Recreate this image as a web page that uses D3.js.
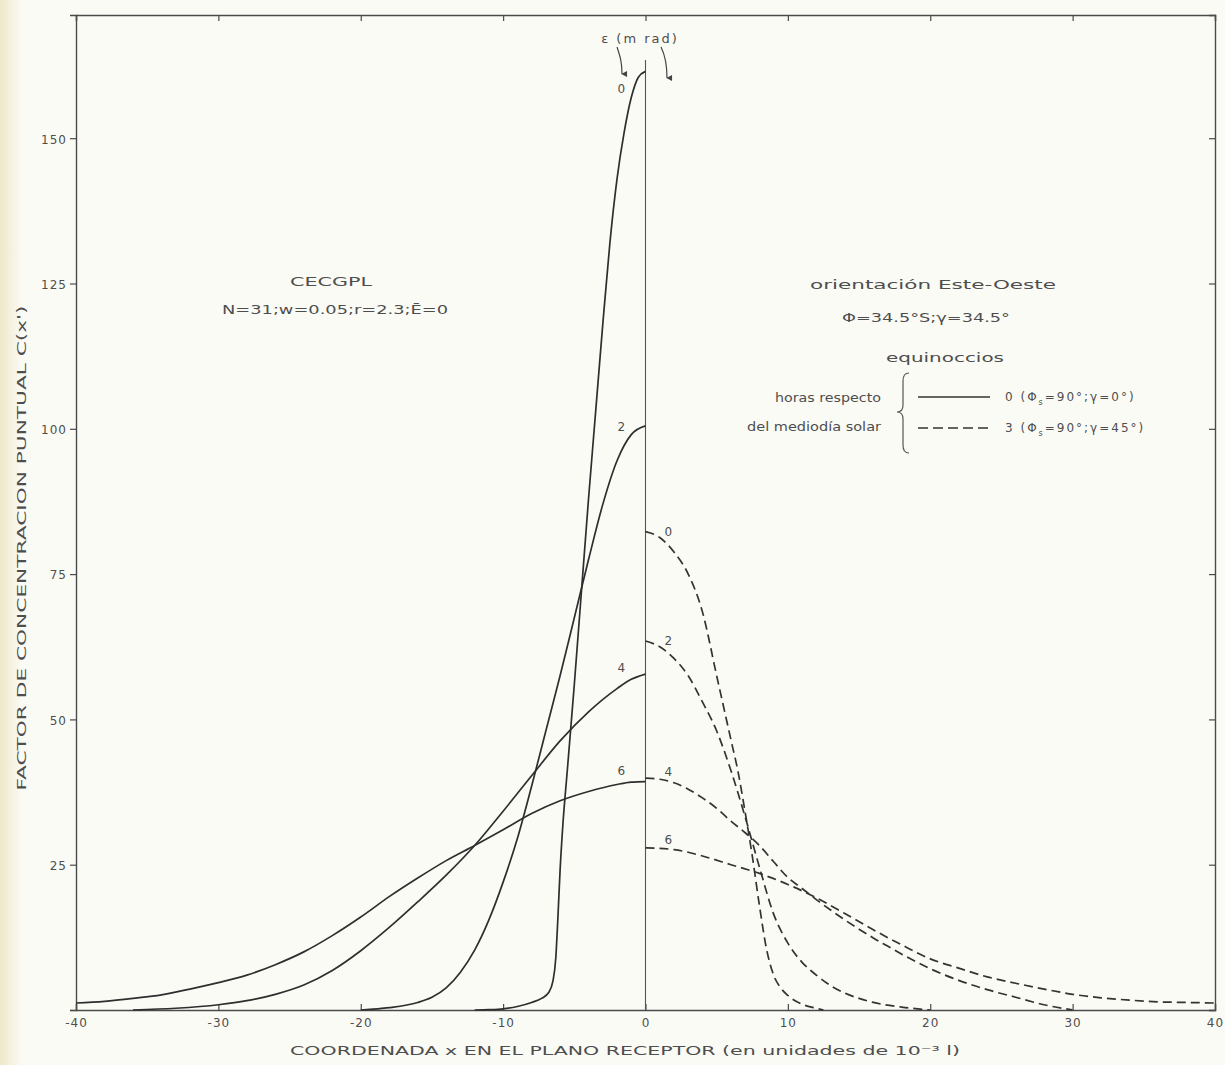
<!DOCTYPE html>
<html><head><meta charset="utf-8">
<script src="https://cdn.jsdelivr.net/npm/d3@7"></script>
<style>
html,body{margin:0;padding:0;background:#fbfbf6;}
svg{display:block;}
text{font-family:"DejaVu Sans",sans-serif;fill:#4e4e4e;}
</style>
</head><body>
<svg id="chart" width="1225" height="1065"></svg>
<script>
// ---- data ----
const xTicks = [-40, -30, -20, -10, 0, 10, 20, 30, 40];
const yTicks = [0, 25, 50, 75, 100, 125, 150];
const hourLabels = ["0", "2", "4", "6"];

// solid: hour angle 0,2,4,6 h (Φs=90°; γ=0°), x <= 0
const solidH0 = [[-12,0],[-11,0.05],[-10,0.2],[-9,0.6],[-8,1.3],[-7.3,2],[-6.8,3],[-6.5,5],[-6.3,9],[-6.15,16],[-6.0,24],[-5.8,32],[-5.5,41],[-5.0,56],[-4.5,72],[-4.0,88],[-3.5,103],[-3.0,118],[-2.5,132],[-2.0,143],[-1.5,151],[-1.0,157],[-0.5,160.5],[0,161.5]];
const solidH2 = [[-20,0],[-18,0.4],[-16,1.3],[-15,2.2],[-14,3.8],[-13,6.5],[-12,10.3],[-11,15.5],[-10,22],[-9,29.5],[-8,38.5],[-7,48],[-6,57.5],[-5,67.5],[-4,77.5],[-3,87],[-2,94.5],[-1,99],[0,100.5]];
const solidH4 = [[-36,0],[-33,0.3],[-30,0.9],[-28,1.6],[-26,2.7],[-24,4.3],[-22,6.8],[-20,10.2],[-18,14.2],[-16,18.6],[-14,23.2],[-12,28.3],[-10,34.2],[-8,40.3],[-6,46.3],[-4,51.3],[-2,55.3],[-1,56.9],[0,57.8]];
const solidH6 = [[-40,1.2],[-38,1.5],[-36,2],[-34,2.6],[-32,3.6],[-30,4.7],[-28,6],[-26,7.8],[-24,10],[-22,12.8],[-20,16],[-18,19.5],[-16,22.7],[-14,25.7],[-12,28.3],[-10,31],[-8,33.8],[-6,36],[-4,37.6],[-2,38.8],[-1,39.2],[0,39.3]];

// dashed: hour angle 0,2,4,6 h (Φs=90°; γ=45°), x >= 0
const dashedH0 = [[0,82.3],[1,81.3],[2,78.8],[3,75],[4,68.5],[5,57.5],[6,46.5],[6.5,41],[7,34],[7.5,26.5],[8,18],[8.5,10.5],[9,6],[9.5,3.8],[10,2.5],[11,1],[12,0.3],[12.5,0]];
const dashedH2 = [[0,63.5],[1,62.5],[2,60.5],[3,57.5],[4,53],[5,48],[6,41.2],[7,33.2],[8,24.6],[9,16.5],[10,11.5],[11,8.2],[12,6],[13,4.2],[14,2.9],[15,2],[16,1.3],[18,0.5],[20,0]];
const dashedH4 = [[0,39.9],[1,39.7],[2,39.1],[3,38],[4,36.5],[5,34.7],[6,32.5],[7,30.5],[8,28.3],[9,25.5],[10,22.8],[11,20.9],[12,19],[13,17.2],[14,15.5],[15,13.9],[16,12.4],[17,11],[18,9.6],[19,8.3],[20,7.1],[22,5.1],[24,3.5],[26,2.2],[28,0.9],[30,0]];
const dashedH6 = [[0,27.9],[2,27.6],[4,26.5],[6,25],[8,23.5],[10,21.6],[12,19.3],[14,16.6],[16,13.8],[18,11.2],[20,8.8],[22,7.2],[24,5.7],[26,4.6],[28,3.6],[30,2.7],[32,2.1],[34,1.7],[36,1.4],[38,1.3],[40,1.2]];

const solidSeries = [solidH0, solidH2, solidH4, solidH6];
const dashedSeries = [dashedH0, dashedH2, dashedH4, dashedH6];

// ---- layout ----
const svg = d3.select("#chart");
const W = 1225, H = 1065;
const m = {left: 76, right: 10, top: 15, bottom: 55};
const x = d3.scaleLinear().domain([-40, 40]).range([m.left, W - m.right]);
const y = d3.scaleLinear().domain([0, 171.2]).range([H - m.bottom, m.top]);

const defs = svg.append("defs");
const g1 = defs.append("linearGradient").attr("id","edge").attr("x1","0").attr("x2","1");
g1.append("stop").attr("offset","0").attr("stop-color","#efe8c8");
g1.append("stop").attr("offset","1").attr("stop-color","#fbfbf6");
svg.append("rect").attr("width",W).attr("height",H).attr("fill","#fbfbf6");
svg.append("rect").attr("width",22).attr("height",H).attr("fill","url(#edge)");

defs.append("marker").attr("id","arr").attr("viewBox","0 0 10 10").attr("refX",5).attr("refY",9)
  .attr("markerWidth",6).attr("markerHeight",8).attr("orient","auto-start-reverse")
  .append("path").attr("d","M1,2 L5,10 L9,2 Z").attr("fill","#444");

const axisColor = "#4a4a4a";
const fmt = d => String(d);

const gB = svg.append("g").attr("transform",`translate(0,${y(0)})`)
  .call(d3.axisBottom(x).tickValues(xTicks).tickSize(-6).tickPadding(8).tickFormat(fmt));
const gT = svg.append("g").attr("transform",`translate(0,${y.range()[1]})`)
  .call(d3.axisTop(x).tickValues(xTicks).tickSize(-6).tickFormat(""));
const gL = svg.append("g").attr("transform",`translate(${x(-40)},0)`)
  .call(d3.axisLeft(y).tickValues(yTicks).tickSize(6).tickPadding(3).tickFormat(d => d === 0 ? "" : fmt(d)));
const gR = svg.append("g").attr("transform",`translate(${x(40)},0)`)
  .call(d3.axisRight(y).tickValues(yTicks).tickSize(-6).tickFormat(""));
[gB,gT,gL,gR].forEach(g => {
  g.select(".domain").attr("stroke",axisColor).attr("stroke-width",1.4);
  g.selectAll(".tick line").attr("stroke",axisColor).attr("stroke-width",1.2);
  g.selectAll(".tick text").attr("fill","#555").style("font-size","12px").style("letter-spacing","1px")
    .style("font-family","DejaVu Sans, sans-serif");
});
gL.selectAll(".tick text").attr("dy","0.4em");

svg.append("line").attr("x1",x(0)).attr("x2",x(0)).attr("y1",60).attr("y2",y(0))
  .attr("stroke","#555").attr("stroke-width",1.1);

const line = d3.line().x(d => x(d[0])).y(d => y(d[1])).curve(d3.curveMonotoneX);
svg.append("g").selectAll("path").data(solidSeries).join("path")
  .attr("d", line).attr("fill","none").attr("stroke","#2e2e2e").attr("stroke-width",1.7);
svg.append("g").selectAll("path").data(dashedSeries).join("path")
  .attr("d", line).attr("fill","none").attr("stroke","#333").attr("stroke-width",1.7)
  .attr("stroke-dasharray","9,5");

const solidOff = [17, 1, -6, -11];
solidSeries.forEach((s, i) => {
  const peak = s[s.length - 1][1];
  svg.append("text").attr("x", x(-1.7)).attr("y", y(peak) + solidOff[i]).attr("dy","0.35em")
    .attr("text-anchor","middle").style("font-size","12px").text(hourLabels[i]);
});
const dashOff = [0, 0, -6, -8];
dashedSeries.forEach((s, i) => {
  svg.append("text").attr("x", x(1.6)).attr("y", y(s[0][1]) + dashOff[i]).attr("dy","0.35em")
    .attr("text-anchor","middle").style("font-size","12px").text(hourLabels[i]);
});

svg.append("text").attr("x",640).attr("y",38).attr("dy","0.35em").attr("text-anchor","middle")
  .style("font-size","13px").style("letter-spacing","2px").text("ε (m rad)");
svg.append("path").attr("d","M617,47 C620,56 622,62 622,74").attr("fill","none")
  .attr("stroke","#444").attr("stroke-width",1.2).attr("marker-end","url(#arr)");
svg.append("path").attr("d","M661,47 C665,55 667,63 667,78").attr("fill","none")
  .attr("stroke","#444").attr("stroke-width",1.2).attr("marker-end","url(#arr)");

function txt(xp, yp, s, size, len, anchor) {
  const t = svg.append("text").attr("x",xp).attr("y",yp).attr("dy","0.35em")
    .attr("text-anchor", anchor || "middle").style("font-size", size + "px").text(s);
  if (len) t.attr("textLength", len).attr("lengthAdjust","spacingAndGlyphs");
  return t;
}
txt(331, 281, "CECGPL", 13, 82);
txt(335, 309, "N=31;w=0.05;r=2.3;Ē=0", 13, 226);

txt(933, 285, "orientación Este-Oeste", 12, 246);
txt(926, 318, "Φ=34.5°S;γ=34.5°", 12, 168);
txt(945, 358, "equinoccios", 12, 118);
txt(881, 398, "horas respecto", 12, 106, "end");
txt(881, 427, "del mediodía solar", 12, 134, "end");
svg.append("path").attr("d","M909,373 Q903,373 903,381 L903,405 Q903,412 897,412 Q903,412 903,419 L903,445 Q903,453 909,453")
  .attr("fill","none").attr("stroke","#555").attr("stroke-width",1.2);
svg.append("line").attr("x1",918).attr("x2",990).attr("y1",397).attr("y2",397)
  .attr("stroke","#333").attr("stroke-width",1.7);
svg.append("line").attr("x1",918).attr("x2",990).attr("y1",428).attr("y2",428)
  .attr("stroke","#333").attr("stroke-width",1.7).attr("stroke-dasharray","10,5");
function legendText(yp, hour, gamma) {
  const t = svg.append("text").attr("x",1005).attr("y",yp).attr("dy","0.35em").style("font-size","12px")
    .style("letter-spacing","2px");
  t.append("tspan").text(hour + " (Φ");
  t.append("tspan").attr("dy","4").style("font-size","8px").text("s");
  t.append("tspan").attr("dy","-4").text("=90°;γ=" + gamma + ")");
}
legendText(397, "0", "0°");
legendText(428, "3", "45°");

txt(625, 1050, "COORDENADA x EN EL PLANO RECEPTOR (en unidades de 10⁻³ l)", 13, 670);
svg.append("text").attr("transform","translate(22,548) rotate(-90)").attr("dy","0.35em")
  .attr("text-anchor","middle").style("font-size","12px")
  .attr("textLength",485).attr("lengthAdjust","spacingAndGlyphs")
  .text("FACTOR DE CONCENTRACION PUNTUAL C(x')");
</script>
</body></html>
